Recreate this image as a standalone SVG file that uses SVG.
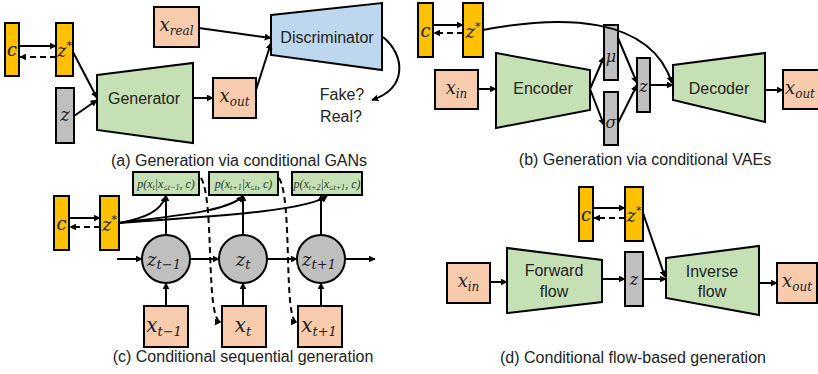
<svg xmlns="http://www.w3.org/2000/svg" width="818" height="374" viewBox="0 0 818 374">
<defs>
<marker id="ah" viewBox="0 0 10 10" refX="9" refY="5" markerWidth="7" markerHeight="7" markerUnits="userSpaceOnUse" orient="auto">
<path d="M0,0 L10,5 L0,10 z" fill="#000"/>
</marker>
<style>
.y{fill:#FFC000;stroke:#000;stroke-width:2}
.g{fill:#BFBFBF;stroke:#000;stroke-width:2}
.o{fill:#F8CBAD;stroke:#000;stroke-width:2}
.gr{fill:#C5E0B4;stroke:#000;stroke-width:2}
.b{fill:#BDD7EE;stroke:#000;stroke-width:2}
.ln{fill:none;stroke:#000;stroke-width:2;marker-end:url(#ah)}
.ds{fill:none;stroke:#000;stroke-width:2;stroke-dasharray:6,4;marker-end:url(#ah)}
.m{font-family:"DejaVu Serif",serif;font-style:italic;fill:#222;text-anchor:middle}
.t{font-family:"Liberation Sans",Arial,sans-serif;fill:#222;text-anchor:middle}
.cap{font-family:"Liberation Sans",Arial,sans-serif;fill:#222;font-size:16px;text-anchor:middle}
.p{font-family:"Liberation Serif",serif;font-style:italic;fill:#2b3a2b;font-size:12px;text-anchor:middle}
</style>
</defs>

<!-- Panel (a) -->
<g id="a-c"><rect class="y" x="5" y="23" width="14" height="53"/><text class="m" x="12" y="56" font-size="18">c</text></g>
<g id="a-zstar"><rect class="y" x="56" y="23" width="17" height="53"/><text class="m" x="64.5" y="57" font-size="18">z<tspan dy="-8" font-size="11">*</tspan></text></g>
<g id="a-z"><rect class="g" x="56" y="88" width="18" height="55"/><text class="m" x="65" y="121" font-size="18">z</text></g>
<g id="a-gen"><polygon class="gr" points="97,75 193,63 193,143 97,130"/><text class="t" x="144" y="104" font-size="16">Generator</text></g>
<g id="a-xout"><rect class="o" x="213" y="78" width="43" height="40"/><text class="m" x="234.5" y="102" font-size="18">x<tspan dy="4" font-size="12">out</tspan></text></g>
<g id="a-xreal"><rect class="o" x="154" y="7" width="45" height="40"/><text class="m" x="176.5" y="31" font-size="18">x<tspan dy="4" font-size="12">real</tspan></text></g>
<g id="a-disc"><polygon class="b" points="271,15 382,3 382,70 271,55"/><text class="t" x="327" y="43" font-size="16">Discriminator</text></g>
<g id="a-fake"><text class="t" x="342" y="100" font-size="16">Fake?</text><text class="t" x="341" y="122" font-size="16">Real?</text></g>
<text class="cap" x="239" y="166">(a) Generation via conditional GANs</text>

<!-- Panel (b) -->
<g id="b-c"><rect class="y" x="418" y="3" width="15" height="54"/><text class="m" x="425.5" y="37" font-size="18">c</text></g>
<g id="b-zstar"><rect class="y" x="463" y="3" width="20" height="54"/><text class="m" x="473" y="38" font-size="18">z<tspan dy="-8" font-size="11">*</tspan></text></g>
<g id="b-xin"><rect class="o" x="435" y="70" width="43" height="39"/><text class="m" x="456.5" y="94" font-size="18">x<tspan dy="4" font-size="12">in</tspan></text></g>
<g id="b-enc"><polygon class="gr" points="496,53 590,70 590,110 496,128"/><text class="t" x="543" y="94" font-size="16">Encoder</text></g>
<g id="b-mu"><rect class="g" x="604" y="25" width="14" height="55"/><text class="m" x="611" y="62" font-size="16">μ</text></g>
<g id="b-sigma"><rect class="g" x="604" y="92" width="14" height="53"/><text class="m" x="611" y="128" font-size="16">σ</text></g>
<g id="b-z"><rect class="g" x="637" y="58" width="13" height="54"/><text class="m" x="643.5" y="92" font-size="16">z</text></g>
<g id="b-dec"><polygon class="gr" points="673,65 765,53 765,122 673,100"/><text class="t" x="719" y="94" font-size="16">Decoder</text></g>
<g id="b-xout"><rect class="o" x="783" y="70" width="40" height="39"/><text class="m" x="785" y="94" font-size="18" style="text-anchor:start">x<tspan dy="4" font-size="12">out</tspan></text></g>
<text class="cap" x="645" y="165">(b) Generation via conditional VAEs</text>

<!-- Panel (c) -->
<g id="c-c"><rect class="y" x="54" y="196" width="15" height="54"/><text class="m" x="61.5" y="230" font-size="18">c</text></g>
<g id="c-zstar"><rect class="y" x="100" y="196" width="19" height="54"/><text class="m" x="109.5" y="231" font-size="18">z<tspan dy="-8" font-size="11">*</tspan></text></g>
<g id="c-p1"><rect class="gr" x="133" y="172" width="66" height="23"/><text class="p" x="166" y="188">p(x<tspan dy="2" font-size="8">t</tspan><tspan dy="-2">|x</tspan><tspan dy="2" font-size="8">≤t−1</tspan><tspan dy="-2">, c)</tspan></text></g>
<g id="c-p2"><rect class="gr" x="209" y="172" width="69" height="23"/><text class="p" x="243.5" y="188">p(x<tspan dy="2" font-size="8">t+1</tspan><tspan dy="-2">|x</tspan><tspan dy="2" font-size="8">≤t</tspan><tspan dy="-2">, c)</tspan></text></g>
<g id="c-p3"><rect class="gr" x="292" y="172" width="70" height="23"/><text class="p" x="327" y="188">p(x<tspan dy="2" font-size="8">t+2</tspan><tspan dy="-2">|x</tspan><tspan dy="2" font-size="8">≤t+1</tspan><tspan dy="-2">, c)</tspan></text></g>
<g id="c-z1"><circle class="g" cx="166" cy="259" r="24"/><text class="m" x="164" y="266" font-size="18">z<tspan dy="3" font-size="13">t−1</tspan></text></g>
<g id="c-z2"><circle class="g" cx="243" cy="259" r="24"/><text class="m" x="243" y="266" font-size="18">z<tspan dy="3" font-size="13">t</tspan></text></g>
<g id="c-z3"><circle class="g" cx="321" cy="259" r="24"/><text class="m" x="319" y="266" font-size="18">z<tspan dy="3" font-size="13">t+1</tspan></text></g>
<g id="c-x1"><rect class="o" x="144" y="306" width="44" height="41"/><text class="m" x="164" y="332" font-size="20">x<tspan dy="4" font-size="13">t−1</tspan></text></g>
<g id="c-x2"><rect class="o" x="222" y="306" width="44" height="41"/><text class="m" x="243" y="332" font-size="20">x<tspan dy="4" font-size="13">t</tspan></text></g>
<g id="c-x3"><rect class="o" x="298" y="306" width="44" height="41"/><text class="m" x="319" y="332" font-size="20">x<tspan dy="4" font-size="13">t+1</tspan></text></g>
<text class="cap" x="243" y="362">(c) Conditional sequential generation</text>

<!-- Panel (d) -->
<g id="d-c"><rect class="y" x="579" y="187" width="14" height="54"/><text class="m" x="586" y="221" font-size="18">c</text></g>
<g id="d-zstar"><rect class="y" x="625" y="187" width="18" height="54"/><text class="m" x="634" y="222" font-size="18">z<tspan dy="-8" font-size="11">*</tspan></text></g>
<g id="d-xin"><rect class="o" x="447" y="263" width="43" height="40"/><text class="m" x="468.5" y="287" font-size="18">x<tspan dy="4" font-size="12">in</tspan></text></g>
<g id="d-ff"><polygon class="gr" points="507,248 602,260 602,302 507,313"/><text class="t" x="554" y="276" font-size="16">Forward</text><text class="t" x="554" y="297" font-size="16">flow</text></g>
<g id="d-z"><rect class="g" x="625" y="252" width="18" height="54"/><text class="m" x="634" y="285" font-size="16">z</text></g>
<g id="d-if"><polygon class="gr" points="666,258 759,246 759,315 666,298"/><text class="t" x="712" y="277" font-size="16">Inverse</text><text class="t" x="712" y="297" font-size="16">flow</text></g>
<g id="d-xout"><rect class="o" x="777" y="263" width="40" height="40"/><text class="m" x="797" y="287" font-size="18">x<tspan dy="4" font-size="12">out</tspan></text></g>
<text class="cap" x="633" y="363">(d) Conditional flow-based generation</text>

<g id="connectors">
<!-- a -->
<line class="ln" x1="19" y1="46" x2="56" y2="46"/>
<line class="ds" x1="56" y1="57" x2="20" y2="57"/>
<line class="ln" x1="73" y1="52" x2="97" y2="98"/>
<line class="ln" x1="74" y1="116" x2="97" y2="100"/>
<line class="ln" x1="193" y1="98" x2="213" y2="98"/>
<line class="ln" x1="199" y1="28" x2="271" y2="38"/>
<line class="ln" x1="256" y1="90" x2="271" y2="43"/>
<path class="ln" d="M383,37 C405,55 408,88 372,100"/>
<!-- b -->
<line class="ln" x1="433" y1="25" x2="463" y2="25"/>
<line class="ds" x1="463" y1="33" x2="434" y2="33"/>
<line class="ln" x1="478" y1="89" x2="496" y2="89"/>
<line class="ln" x1="590" y1="89" x2="604" y2="57"/>
<line class="ln" x1="590" y1="89" x2="604" y2="125"/>
<line class="ln" x1="618" y1="38" x2="637" y2="83"/>
<line class="ln" x1="618" y1="123" x2="637" y2="85"/>
<line class="ln" x1="650" y1="85" x2="673" y2="85"/>
<line class="ln" x1="765" y1="90" x2="783" y2="90"/>
<path class="ln" d="M483,30 C560,15 650,15 672,83"/>
<!-- c -->
<line class="ln" x1="69" y1="218" x2="100" y2="218"/>
<line class="ds" x1="100" y1="227" x2="70" y2="227"/>
<path class="ln" d="M119,223 C145,218 160,212 166,196"/>
<path class="ln" d="M119,223 C170,216 228,212 243,196"/>
<path class="ln" d="M119,223 C200,217 305,212 327,196"/>
<line class="ln" x1="166" y1="235" x2="166" y2="195"/>
<line class="ln" x1="243" y1="235" x2="243" y2="195"/>
<line class="ln" x1="321" y1="235" x2="321" y2="195"/>
<line class="ln" x1="166" y1="306" x2="166" y2="283"/>
<line class="ln" x1="243" y1="306" x2="243" y2="283"/>
<line class="ln" x1="321" y1="306" x2="321" y2="283"/>
<line class="ln" x1="117" y1="259" x2="142" y2="259"/>
<line class="ln" x1="190" y1="259" x2="219" y2="259"/>
<line class="ln" x1="267" y1="259" x2="297" y2="259"/>
<line class="ln" x1="345" y1="259" x2="375" y2="259"/>
<path class="ds" d="M201,178 C215,200 205,322 221,322"/>
<path class="ds" d="M279,178 C293,200 283,322 297,322"/>
<!-- d -->
<line class="ln" x1="593" y1="208" x2="625" y2="208"/>
<line class="ds" x1="625" y1="218" x2="594" y2="218"/>
<line class="ln" x1="490" y1="282" x2="507" y2="282"/>
<line class="ln" x1="602" y1="279" x2="625" y2="279"/>
<line class="ln" x1="643" y1="279" x2="666" y2="279"/>
<line class="ln" x1="643" y1="213" x2="665" y2="277"/>
<line class="ln" x1="759" y1="283" x2="777" y2="283"/>
</g>
</svg>
